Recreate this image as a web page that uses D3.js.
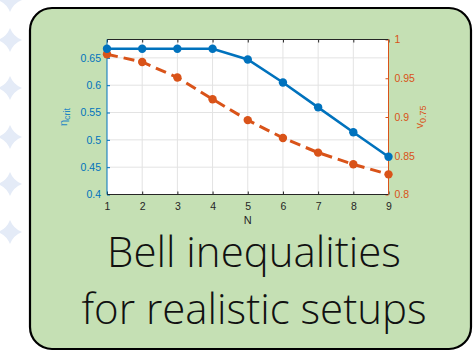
<!DOCTYPE html>
<html>
<head>
<meta charset="utf-8">
<script src="https://cdn.jsdelivr.net/npm/d3@7"></script>
<style>
  html, body { margin: 0; padding: 0; background: #fff; }
  svg { display: block; }
</style>
</head>
<body>
<svg id="chart" width="476" height="351"></svg>
<script>
// data
var nValues = [1, 2, 3, 4, 5, 6, 7, 8, 9];
var etaCrit = [0.6667, 0.6667, 0.6667, 0.6667, 0.647, 0.605, 0.5595, 0.514, 0.469];
var v075 = [0.981, 0.971, 0.951, 0.923, 0.896, 0.873, 0.854, 0.839, 0.826];
var leftTicks = [0.4, 0.45, 0.5, 0.55, 0.6, 0.65];
var rightTicks = [0.8, 0.85, 0.9, 0.95, 1];
var titleLines = ["Bell inequalities", "for realistic setups"];
var starRows = [0, 40, 88, 137, 184, 232];

var blue = "#0072BD", orange = "#D95319";
var svg = d3.select("#chart");

// background decoration
var star = function(cx, cy, r) {
  var k = r * 0.28;
  return "M" + cx + "," + (cy - r) +
    "Q" + (cx + k) + "," + (cy - k) + " " + (cx + r) + "," + cy +
    "Q" + (cx + k) + "," + (cy + k) + " " + cx + "," + (cy + r) +
    "Q" + (cx - k) + "," + (cy + k) + " " + (cx - r) + "," + cy +
    "Q" + (cx - k) + "," + (cy - k) + " " + cx + "," + (cy - r) + "Z";
};
svg.selectAll("path.star").data(starRows).enter().append("path")
  .attr("class", "star")
  .attr("d", function(d) { return star(10, d, 12); })
  .attr("fill", "#e4ebf7");

// card
svg.append("rect")
  .attr("x", 30).attr("y", 8)
  .attr("width", 441).attr("height", 341)
  .attr("rx", 22).attr("ry", 22)
  .attr("fill", "#c5e0b4")
  .attr("stroke", "#000").attr("stroke-width", 2.2);

var plot = { left: 107, top: 39.5, right: 388.5, bottom: 194.5 };

var x = d3.scaleLinear().domain([1, 9]).range([plot.left, plot.right]);
var yL = d3.scaleLinear().domain([0.4, 0.6836]).range([plot.bottom, plot.top]);
var yR = d3.scaleLinear().domain([0.8, 1]).range([plot.bottom, plot.top]);

var g = svg.append("g");
g.append("rect")
  .attr("x", plot.left).attr("y", plot.top)
  .attr("width", plot.right - plot.left).attr("height", plot.bottom - plot.top)
  .attr("fill", "#fff");

// grid
g.selectAll("line.gx").data(nValues.slice(1, -1)).enter().append("line")
  .attr("x1", x).attr("x2", x)
  .attr("y1", plot.top).attr("y2", plot.bottom)
  .attr("stroke", "#e3e3e3").attr("stroke-width", 1);
g.selectAll("line.gy").data(leftTicks.slice(1)).enter().append("line")
  .attr("x1", plot.left).attr("x2", plot.right)
  .attr("y1", yL).attr("y2", yL)
  .attr("stroke", "#e3e3e3").attr("stroke-width", 1);

var font = "'Liberation Sans', Arial, sans-serif";

// axes
var styleAxis = function(sel, color) {
  sel.selectAll("text").attr("font-family", font).attr("font-size", 10.5).attr("fill", color);
  sel.selectAll("line").attr("stroke", color);
  sel.select(".domain").remove();
};
var xb = g.append("g").attr("transform", "translate(0," + plot.bottom + ")")
  .call(d3.axisBottom(x).tickValues(nValues).tickSizeInner(-3).tickSizeOuter(0).tickPadding(8).tickFormat(d3.format("d")));
styleAxis(xb, "#262626");
var xt = g.append("g").attr("transform", "translate(0," + plot.top + ")")
  .call(d3.axisTop(x).tickValues(nValues).tickSizeInner(-3).tickSizeOuter(0).tickFormat(""));
styleAxis(xt, "#262626");
var yl = g.append("g").attr("transform", "translate(" + plot.left + ",0)")
  .call(d3.axisLeft(yL).tickValues(leftTicks).tickSizeInner(-3).tickSizeOuter(0).tickPadding(6).tickFormat(d3.format("")));
styleAxis(yl, blue);
var yr = g.append("g").attr("transform", "translate(" + plot.right + ",0)")
  .call(d3.axisRight(yR).tickValues(rightTicks).tickSizeInner(-3).tickSizeOuter(0).tickPadding(6).tickFormat(d3.format("")));
styleAxis(yr, orange);

// box lines
g.append("line").attr("x1", plot.left).attr("x2", plot.right).attr("y1", plot.top).attr("y2", plot.top).attr("stroke", "#262626");
g.append("line").attr("x1", plot.left).attr("x2", plot.right).attr("y1", plot.bottom).attr("y2", plot.bottom).attr("stroke", "#262626");
g.append("line").attr("x1", plot.left).attr("x2", plot.left).attr("y1", plot.top).attr("y2", plot.bottom).attr("stroke", blue);
g.append("line").attr("x1", plot.right).attr("x2", plot.right).attr("y1", plot.top).attr("y2", plot.bottom).attr("stroke", orange);

// series
var lineL = d3.line().x(function(d, i) { return x(nValues[i]); }).y(function(d) { return yL(d); });
var lineR = d3.line().x(function(d, i) { return x(nValues[i]); }).y(function(d) { return yR(d); });

g.append("path").datum(v075).attr("d", lineR)
  .attr("fill", "none").attr("stroke", orange).attr("stroke-width", 3)
  .attr("stroke-dasharray", "11,6");
g.selectAll("circle.r").data(v075).enter().append("circle")
  .attr("cx", function(d, i) { return x(nValues[i]); }).attr("cy", yR)
  .attr("r", 4.2).attr("fill", orange);

g.append("path").datum(etaCrit).attr("d", lineL)
  .attr("fill", "none").attr("stroke", blue).attr("stroke-width", 2.6);
g.selectAll("circle.b").data(etaCrit).enter().append("circle")
  .attr("cx", function(d, i) { return x(nValues[i]); }).attr("cy", yL)
  .attr("r", 4.2).attr("fill", blue);

// axis labels
var lab = g.append("text").attr("transform", "translate(67,117) rotate(-90)")
  .attr("text-anchor", "middle").attr("font-family", font).attr("font-size", 11).attr("fill", "#1f86c4");
lab.append("tspan").text("η");
lab.append("tspan").attr("font-size", 9).attr("dy", 3).text("crit");

var labR = g.append("text").attr("transform", "translate(423,117) rotate(-90)")
  .attr("text-anchor", "middle").attr("font-family", font).attr("font-size", 11).attr("fill", orange);
labR.append("tspan").text("v");
labR.append("tspan").attr("font-size", 9).attr("dy", 3).text("0.75");

g.append("text").attr("x", (plot.left + plot.right) / 2).attr("y", 224)
  .attr("text-anchor", "middle").attr("font-family", font).attr("font-size", 11)
  .attr("fill", "#262626").text("N");

// title
svg.selectAll("text.title").data(titleLines).enter().append("text")
  .attr("class", "title")
  .attr("x", 254).attr("y", function(d, i) { return 267 + i * 57; })
  .attr("text-anchor", "middle")
  .attr("font-family", "'Open Sans', sans-serif").attr("font-weight", 300)
  .attr("font-size", 42).attr("fill", "#111")
  .text(function(d) { return d; });
</script>
</body>
</html>
